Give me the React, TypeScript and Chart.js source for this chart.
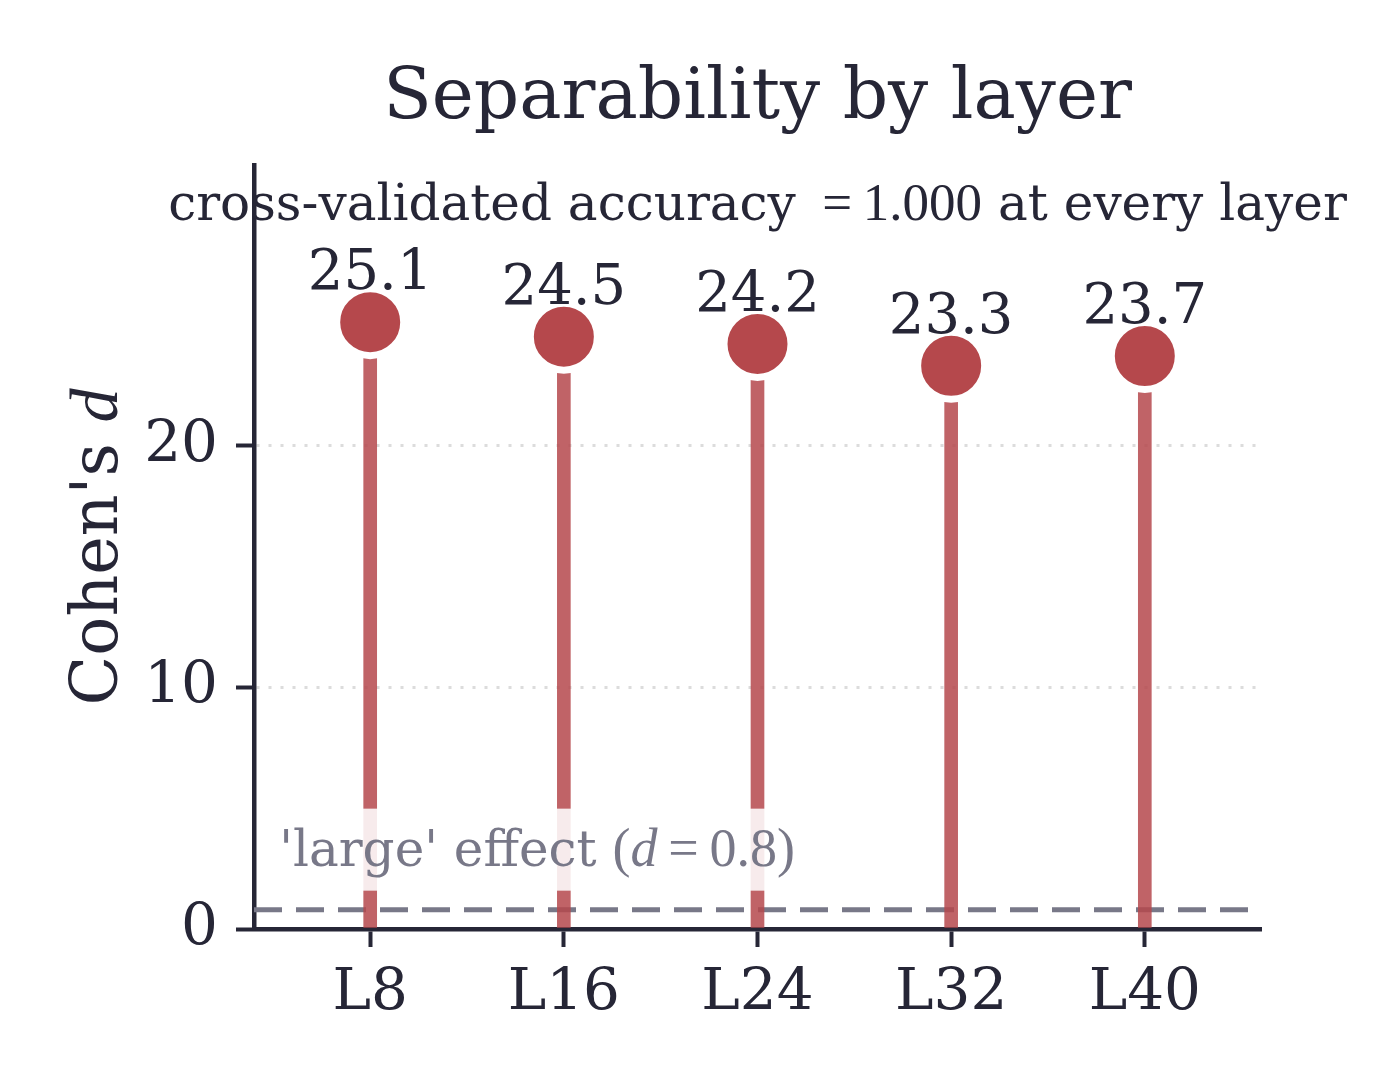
import { useEffect, useRef } from "react";
import { Chart, registerables } from "chart.js";

Chart.register(...registerables);

const layers = ["L8", "L16", "L24", "L32", "L40"];
const cohensD = [25.1, 24.5, 24.2, 23.3, 23.7];
const yTicks = [0, 10, 20];
const largeEffect = 0.8;

const INK = "#262636";
const GREY = "#787888";
const RED = "#b5484c";
const STEM = "rgba(181, 72, 76, 0.85)";
const SERIF = "'DejaVu Serif'";
const MATH = "'Liberation Serif'";

type Run = { text: string; font: string };

// draws a row of text pieces in different fonts, anchored left or centred
function drawRuns(ctx: CanvasRenderingContext2D, runs: Run[], x: number, y: number, align: "left" | "center") {
  const widths = runs.map((r) => {
    ctx.font = r.font;
    return ctx.measureText(r.text).width;
  });
  const total = widths.reduce((a, b) => a + b, 0);
  let cx = align === "center" ? x - total / 2 : x;
  ctx.textAlign = "left";
  runs.forEach((r, i) => {
    ctx.font = r.font;
    ctx.fillText(r.text, cx, y);
    cx += widths[i];
  });
  return total;
}

const overlay = {
  id: "overlay",
  afterDatasetsDraw(chart: Chart) {
    const { ctx, chartArea } = chart;
    const xs = chart.scales.x;
    const ys = chart.scales.y;
    ctx.save();
    ctx.textBaseline = "alphabetic";

    // 'large' effect label with a pale box
    const annRuns: Run[] = [
      { text: "'large' effect ", font: `50px ${SERIF}` },
      { text: "(", font: `54px ${MATH}` },
      { text: "d", font: `italic 54px ${MATH}` },
      { text: "\u2009=\u20090.8)", font: `54px ${MATH}` },
    ];
    const annX = xs.getPixelForValue(-0.47);
    const annY = ys.getPixelForValue(largeEffect) - 44;
    let w = 0;
    annRuns.forEach((r) => {
      ctx.font = r.font;
      w += ctx.measureText(r.text).width;
    });
    ctx.fillStyle = "rgba(255, 255, 255, 0.88)";
    ctx.fillRect(annX - 11, annY - 57, w + 22, 82);
    ctx.fillStyle = GREY;
    drawRuns(ctx, annRuns, annX, annY, "left");

    // value labels above each marker
    ctx.fillStyle = INK;
    ctx.font = `56px ${SERIF}`;
    ctx.textAlign = "center";
    cohensD.forEach((v, i) => {
      ctx.fillText(v.toFixed(1), xs.getPixelForValue(i), ys.getPixelForValue(v) - 33);
    });

    const midX = (chartArea.left + chartArea.right) / 2;

    // title
    ctx.font = `71px ${SERIF}`;
    ctx.textAlign = "center";
    ctx.fillText("Separability by layer", midX, 118);

    // note under the title
    drawRuns(
      ctx,
      [
        { text: "cross-validated accuracy ", font: `50px ${SERIF}` },
        { text: "\u2009=\u20091.000", font: `53px ${MATH}` },
        { text: " at every layer", font: `50px ${SERIF}` },
      ],
      midX,
      220,
      "center"
    );

    // y axis title
    ctx.translate(117, (chartArea.top + chartArea.bottom) / 2);
    ctx.rotate(-Math.PI / 2);
    drawRuns(
      ctx,
      [
        { text: "Cohen's ", font: `65px ${SERIF}` },
        { text: "d", font: `italic 68px ${MATH}` },
      ],
      0,
      0,
      "center"
    );
    ctx.restore();
  },
};

const App = () => {
  const canvasRef = useRef<HTMLCanvasElement>(null);

  useEffect(() => {
    document.body.style.margin = "0";
    const ctx = canvasRef.current?.getContext("2d");
    if (!ctx) {
      return;
    }

    const points = cohensD.map((v, i) => ({ x: i, y: v }));

    const chart = new Chart(ctx, {
      type: "bar",
      data: {
        datasets: [
          {
            type: "line",
            data: [
              { x: -0.6, y: largeEffect },
              { x: layers.length - 0.4, y: largeEffect },
            ],
            borderColor: GREY,
            borderWidth: 5,
            borderDash: [28, 14],
            pointRadius: 0,
            order: 3,
          },
          {
            type: "bar",
            data: points,
            backgroundColor: STEM,
            barThickness: 13,
            order: 2,
          },
          {
            type: "scatter",
            data: points,
            backgroundColor: RED,
            borderColor: "#ffffff",
            borderWidth: 7,
            pointRadius: 33.5,
            pointHoverRadius: 33.5,
            order: 1,
          },
        ] as any,
      },
      options: {
        animation: false,
        responsive: true,
        maintainAspectRatio: false,
        events: [],
        layout: { padding: { left: 0, top: 165, right: 119, bottom: 0 } },
        plugins: {
          legend: { display: false },
          tooltip: { enabled: false },
          title: { display: false },
        },
        scales: {
          x: {
            type: "linear",
            min: -0.6,
            max: layers.length - 0.4,
            offset: false,
            afterBuildTicks: (scale) => {
              scale.ticks = layers.map((_, i) => ({ value: i }));
            },
            afterFit: (scale) => {
              scale.height = 151;
            },
            grid: {
              offset: false,
              drawOnChartArea: false,
              drawTicks: true,
              tickLength: 18,
              tickWidth: 4,
              tickColor: INK,
            },
            border: { display: true, color: INK, width: 4.5 },
            ticks: {
              autoSkip: false,
              maxRotation: 0,
              padding: 12,
              color: INK,
              font: { family: SERIF, size: 58 },
              callback: (value) => layers[Number(value)] ?? "",
            },
          },
          y: {
            type: "linear",
            min: 0,
            max: 31.6,
            afterBuildTicks: (scale) => {
              scale.ticks = yTicks.map((v) => ({ value: v }));
            },
            afterFit: (scale) => {
              scale.width = 254;
            },
            grid: {
              color: (c) => (c.tick && c.tick.value === 0 ? "rgba(0,0,0,0)" : "#dcdcdc"),
              lineWidth: 3,
              drawTicks: true,
              tickLength: 18,
              tickWidth: 4,
              tickColor: INK,
            },
            border: { display: true, color: INK, width: 4.5, dash: [3, 9] },
            ticks: {
              padding: 18,
              color: INK,
              font: { family: SERIF, size: 58 },
            },
          },
        },
      },
      plugins: [overlay],
    });

    return () => {
      chart.destroy();
    };
  }, []);

  return (
    <div style={{ width: 1380, height: 1080, position: "relative", background: "#ffffff" }}>
      <canvas ref={canvasRef} />
    </div>
  );
};

export default App;
